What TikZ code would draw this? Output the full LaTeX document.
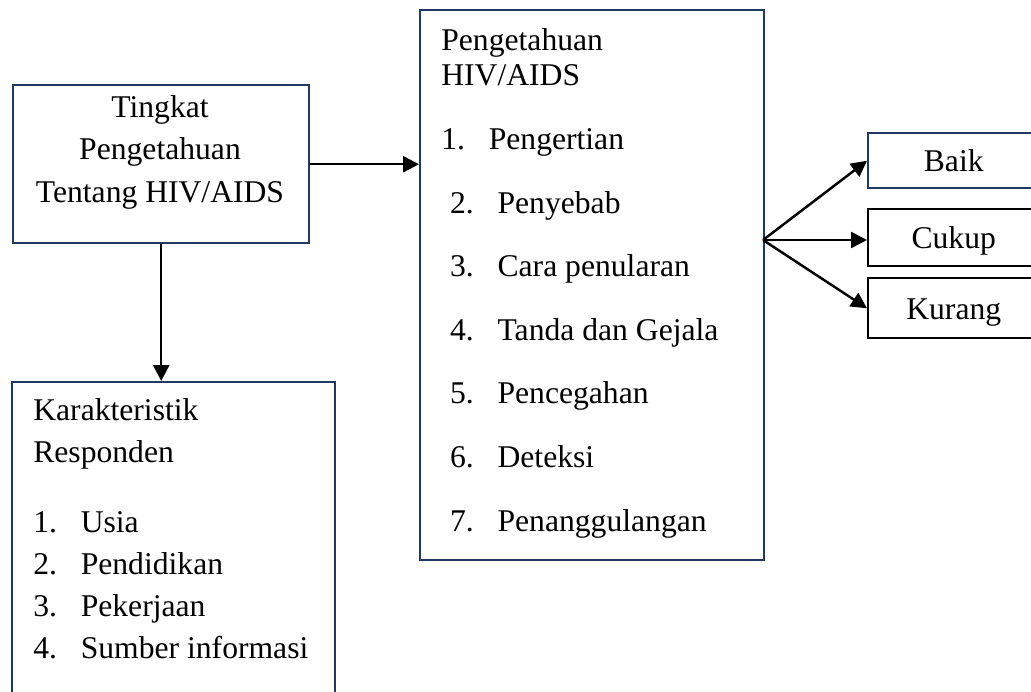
\documentclass[tikz,border=0pt]{standalone}
\usepackage{fontspec}
\setmainfont{Liberation Serif}
\usepackage{tikz}
\usetikzlibrary{arrows.meta, positioning}
\definecolor{navy}{RGB}{31,56,100}
\tikzset{
	box/.style = {draw = navy, line width = 1.4pt, inner sep = 0pt},
	sbox/.style = {line width = 1.4pt, minimum width = 3.42cm, inner sep = 0pt, text height = 12.3pt, text depth = 0pt, font = \fontsize{18}{24}\selectfont},
	txt/.style = {font = \fontsize{18}{24}\selectfont, inner sep = 0pt},
	arr/.style = {-{Triangle[length = 9pt, width = 9pt]}, line width = 1.4pt}
}
\newcommand{\itm}[3]{\hspace*{#1}\makebox[27pt][l]{#2.}#3}

\begin{document}
\begin{tikzpicture}
				\path[use as bounding box] (0,0) rectangle (20.62,-13.82);
				\clip (0,0) rectangle (20.62,-13.82);
				\node[box, anchor = north west, minimum width = 5.92cm, minimum height = 3.16cm] (tingkat) at (0.24,-1.68) {};
				\node[box, anchor = north west, minimum width = 6.88cm, minimum height = 11cm] (peng) at (8.38,-0.18) {};
				\node[box, anchor = north west, minimum width = 6.46cm, minimum height = 7cm] (kar) at (0.22,-7.62) {};
				\node[sbox, draw = navy, anchor = north west, minimum height = 1.10cm] (baik) at (17.34,-2.64) {Baik};
				\node[sbox, draw = black, anchor = north west, minimum height = 1.14cm] (cukup) at (17.34,-4.16) {Cukup};
				\node[sbox, draw = black, anchor = north west, minimum height = 1.20cm] (kurang) at (17.34,-5.54) {Kurang};
				\node[txt, align = center, anchor = north] (tingkattxt) at (3.2,-1.91) {Tingkat\\Pengetahuan\\Tentang HIV/AIDS};
				\node[txt, align = left, anchor = north west] (pengtxt) at (8.82,-0.57) {Pengetahuan\\[-4.1pt]HIV/AIDS\\[12.2pt]
					\itm{0pt}{1}{Pengertian}\\[12.2pt]\itm{5pt}{2}{Penyebab}\\[12.2pt]\itm{5pt}{3}{Cara penularan}\\[12.2pt]
					\itm{5pt}{4}{Tanda dan Gejala}\\[12.2pt]\itm{5pt}{5}{Pencegahan}\\[12.2pt]\itm{5pt}{6}{Deteksi}\\[12.2pt]
					\itm{5pt}{7}{Penanggulangan}};
				\node[txt, align = left, anchor = north west] (kartxt) at (0.66,-7.97) {Karakteristik\\Responden\\[15.3pt]
					\itm{0pt}{1}{Usia}\\\itm{0pt}{2}{Pendidikan}\\\itm{0pt}{3}{Pekerjaan}\\\itm{0pt}{4}{Sumber informasi}};
				\coordinate (fan) at (15.26,-4.80);
				\draw[arr] (tingkat.east) -- (tingkat.east -| peng.west);
				\draw[arr] (tingkat.south) -- (tingkat.south |- kar.north);
				\draw[arr] (fan) -- (baik.west);
				\draw[arr] (fan) -- (fan -| cukup.west);
				\draw[arr] (fan) -- (kurang.west);
			\end{tikzpicture}
\end{document}
